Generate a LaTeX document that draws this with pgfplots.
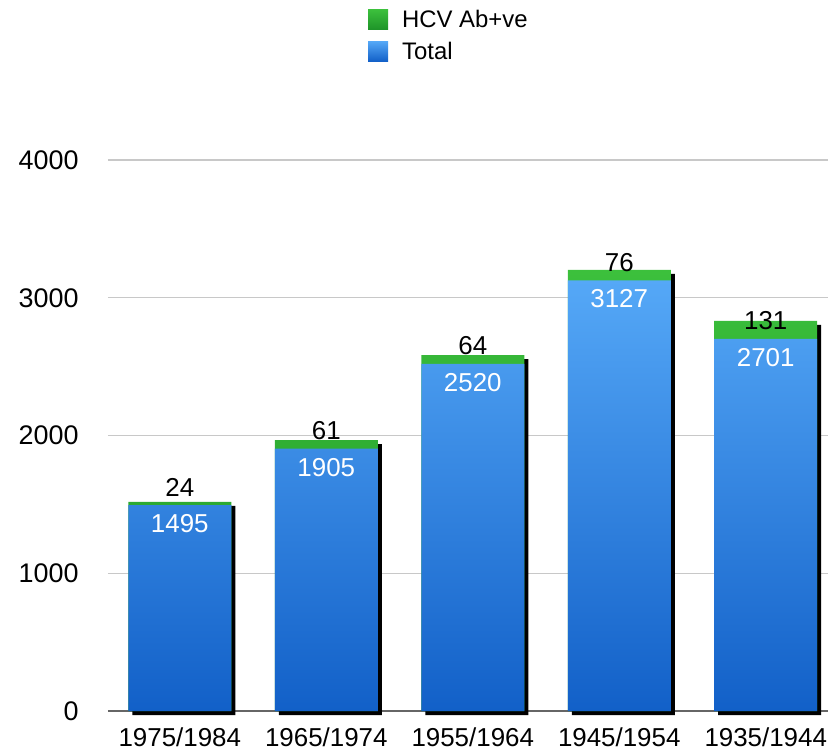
\documentclass[border=0pt]{standalone}
\usepackage{pgfplots}
\usepackage{pgfplotstable}
\pgfplotsset{compat=1.18}
\usepackage{fontspec}
\setmainfont{Liberation Sans}
\definecolor{btop}{HTML}{55A8F7}
\definecolor{bbot}{HTML}{1260C8}
\definecolor{gtop}{HTML}{3CC03C}
\definecolor{gbot}{HTML}{1E9428}
\definecolor{gridc}{HTML}{C8C8C8}
\pgfplotstableread{
x total hcv top
0 1495 24 1519
1 1905 61 1966
2 2520 64 2584
3 3127 76 3203
4 2701 131 2832
}\datatab
\begin{document}
\begin{tikzpicture}[font=\fontsize{24}{28}\selectfont]
\begin{axis}[
  scale only axis,
  width=720bp, height=551bp,
  xmin=-0.49, xmax=4.425,
  ymin=0, ymax=4000,
  ybar, bar width=103bp,
  clip=false,
  axis line style={draw=none},
  xtick={0,1,2,3,4},
  xticklabels={1975/1984,1965/1974,1955/1964,1945/1954,1935/1944},
  ytick={0,1000,2000,3000,4000},
  major tick length=0pt,
  ymajorgrids, grid style={gridc, line width=1.2bp},
  extra y ticks={0}, extra y tick labels={},
  extra y tick style={grid style={gray!80!black, line width=1.5bp}},
  /pgf/number format/assume math mode=true,
  /pgf/number format/1000 sep={},
  yticklabel style={xshift=-26bp, font=\fontsize{27}{30}\selectfont},
  xticklabel style={yshift=-13bp, font=\fontsize{26}{30}\selectfont},
  legend style={at={(axis description cs:0.361,1.276)}, anchor=north west, draw=none, fill=none,
    font=\fontsize{24}{28}\selectfont, row sep=9bp, inner sep=0pt},
  legend image code/.code={\path[#1, draw=none] (0bp,-10bp) rectangle (20bp,10bp);
    \path (0bp,0bp) -- (32bp,0bp);},
  legend cell align=left,
]
\addplot[fill=black, draw=none, bar shift=4bp, yshift=-4bp, forget plot] table[x=x, y=top] {\datatab};
\addplot[draw=none, bar shift=0pt, top color=gtop, bottom color=gbot] table[x=x, y=top] {\datatab};
\addlegendentry{HCV Ab+ve}
\addplot[draw=none, bar shift=0pt, top color=btop, bottom color=bbot,
  nodes near coords, point meta=explicit symbolic,
  nodes near coords style={anchor=north, white, yshift=-6bp, font=\fontsize{26}{30}\selectfont}]
  table[x=x, y=total, meta=total] {\datatab};
\addlegendentry{Total}
\addplot[draw=none, fill=none, bar shift=0pt, forget plot,
  nodes near coords, point meta=explicit symbolic,
  nodes near coords style={anchor=base, black, yshift=9bp, font=\fontsize{26}{30}\selectfont}]
  table[x=x, y=total, meta=hcv] {\datatab};
\end{axis}
\pgfresetboundingbox
\useasboundingbox (-108bp,-42bp) rectangle (720bp,711bp);
\end{tikzpicture}
\end{document}
